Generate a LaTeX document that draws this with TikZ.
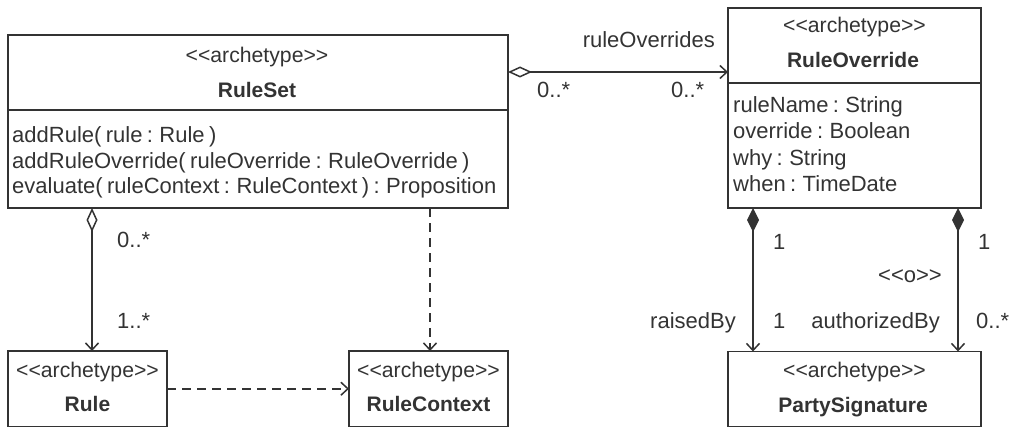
\documentclass[tikz,border=0pt]{standalone}
\usepackage{fontspec}
\setmainfont{Liberation Sans}[WordSpace=0.72]
\usetikzlibrary{arrows.meta,calc}
\definecolor{ink}{gray}{0.2}
\newcommand\stereotyp[1]{<{}<#1>{}>}
\begin{document}
\begin{tikzpicture}[x=1pt,y=-1pt,
  font=\fontsize{22}{26}\selectfont,
  box/.style={draw=ink, line width=1.6pt, inner sep=0pt, outer sep=0pt, anchor=north west},
  txt/.style={inner sep=0pt, text=ink},
  bold/.style={font=\fontsize{21}{26}\selectfont\bfseries},
  ster/.style={font=\fontsize{21.2}{26}\selectfont},
  conn/.style={draw=ink, line width=1.5pt},
  dep/.style={conn, dash pattern=on 9pt off 6pt},
  agg/.style={{Diamond[open,length=24pt,width=11pt,line width=1.5pt]}-{Straight Barb[length=7pt,width=13pt,line width=1.5pt]}},
  comp/.style={{Diamond[length=24pt,width=12pt]}-{Straight Barb[length=7pt,width=13pt,line width=1.5pt]}},
  depend/.style={dep, -{Straight Barb[length=7pt,width=13pt,line width=1.5pt]}}
]
\useasboundingbox (0,0) rectangle (1012,428);

% boxes
\node[box, minimum width=500pt, minimum height=173pt] (ruleset) at (8,35) {};
\draw[conn, line width=1.6pt] ($(ruleset.north west)+(0,75)$) coordinate (rsdl) -- (rsdl -| ruleset.east);
\node[box, minimum width=253pt, minimum height=200pt] (ro) at (728,8) {};
\draw[conn, line width=1.6pt] ($(ro.north west)+(0,75)$) coordinate (rodl) -- (rodl -| ro.east);
\node[box, minimum width=159pt, minimum height=75.5pt] (rule) at (8,351) {};
\node[box, minimum width=159pt, minimum height=75.5pt] (rulectx) at (349,351) {};
\node[box, minimum width=253pt, minimum height=75pt] (ps) at (728,351.5) {};

% RuleSet text
\node[txt, ster, anchor=base] (rs1) at (257,63) {\stereotyp{archetype}};
\node[txt, anchor=base, bold] (rs2) at (257,97) {RuleSet};
\node[txt, anchor=base west] (rs3) at (12,142) {addRule( rule : Rule )};
\node[txt, anchor=base west] (rs4) at (12,168) {addRuleOverride( ruleOverride : RuleOverride )};
\node[txt, anchor=base west] (rs5) at (12,193.5) {evaluate( ruleContext : RuleContext ) : Proposition};

% RuleOverride text
\node[txt, ster, anchor=base] (ro1) at (854.5,33) {\stereotyp{archetype}};
\node[txt, anchor=base, bold] (ro2) at (853,68) {RuleOverride};
\node[txt, anchor=base west] (ro3) at (733,112) {ruleName : String};
\node[txt, anchor=base west] (ro4) at (733,138.5) {override : Boolean};
\node[txt, anchor=base west] (ro5) at (733,165) {why : String};
\node[txt, anchor=base west] (ro6) at (733,191.5) {when : TimeDate};

% Rule / RuleContext / PartySignature text
\node[txt, ster, anchor=base] (r1) at (87.5,377) {\stereotyp{archetype}};
\node[txt, anchor=base, bold] (r2) at (87.5,411) {Rule};
\node[txt, ster, anchor=base] (rc1) at (428.5,377) {\stereotyp{archetype}};
\node[txt, anchor=base, bold] (rc2) at (428.5,411) {RuleContext};
\node[txt, ster, anchor=base] (p1) at (854.5,377) {\stereotyp{archetype}};
\node[txt, anchor=base, bold] (p2) at (853,412) {PartySignature};

% connectors
\coordinate (roL) at ($(ro.north west)+(0,64)$);
\draw[conn, agg] (ruleset.east |- roL) -- (roL);
\coordinate (ruleTop) at ($(rule.north)+(4.5,0)$);
\draw[conn, agg] (ruleset.south -| ruleTop) -- (ruleTop);
\coordinate (ctxTop) at ($(rulectx.north)+(1.5,0)$);
\draw[depend] (ruleset.south -| ctxTop) -- (ctxTop);
\draw[depend] (rule.east) -- (rulectx.west);
\coordinate (psA) at ($(ps.north west)+(25,0)$);
\coordinate (psB) at ($(ps.north east)+(-23,0)$);
\draw[conn, comp] (ro.south -| psA) -- (psA);
\draw[conn, comp] (ro.south -| psB) -- (psB);

% labels
\node[txt, anchor=base east] (l1) at (715,48) {ruleOverrides};
\node[txt, anchor=base west] (l2) at (537,97) {0..*};
\node[txt, anchor=base west] (l3) at (671,97) {0..*};
\node[txt, anchor=base west] (l4) at (117,247) {0..*};
\node[txt, anchor=base west] (l5) at (117,328) {1..*};
\node[txt, anchor=base west] (l6) at (773,249) {1};
\node[txt, anchor=base west] (l7) at (978,249) {1};
\node[txt, anchor=base] (l8) at (910,282) {\stereotyp{o}};
\node[txt, anchor=base east] (l9) at (736,328) {raisedBy};
\node[txt, anchor=base west] (l10) at (773,328) {1};
\node[txt, anchor=base east] (l11) at (940,328) {authorizedBy};
\node[txt, anchor=base west] (l12) at (976,328) {0..*};
\end{tikzpicture}
\end{document}
